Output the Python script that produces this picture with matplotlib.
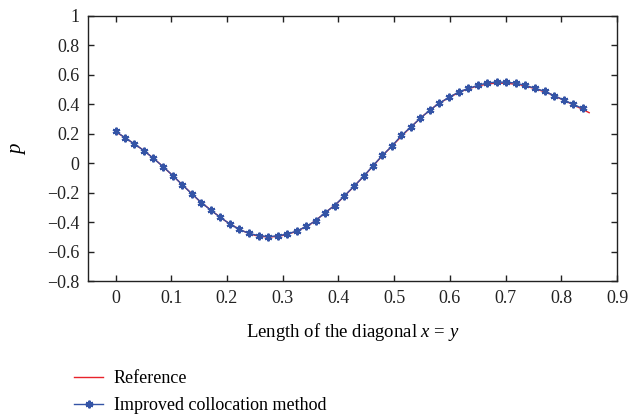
import numpy as np
import matplotlib
matplotlib.use('Agg')
import matplotlib.pyplot as plt
from matplotlib.ticker import FuncFormatter

plt.rcParams['font.family'] = ['Liberation Serif', 'DejaVu Serif']
plt.rcParams['mathtext.fontset'] = 'custom'
plt.rcParams['mathtext.rm'] = 'Liberation Serif'
plt.rcParams['mathtext.it'] = 'Liberation Serif:italic'

# reference solution along the diagonal
ref_x = [0.000, 0.025, 0.050, 0.075, 0.100, 0.125, 0.150, 0.175, 0.200, 0.225,
         0.250, 0.275, 0.300, 0.325, 0.350, 0.375, 0.400, 0.425, 0.450, 0.475,
         0.500, 0.525, 0.550, 0.575, 0.600, 0.625, 0.650, 0.675, 0.700, 0.725,
         0.750, 0.775, 0.800, 0.825, 0.850]
ref_p = [0.215, 0.153, 0.089, 0.012, -0.074, -0.164, -0.253, -0.329, -0.398, -0.454,
         -0.488, -0.501, -0.489, -0.462, -0.412, -0.340, -0.262, -0.168, -0.069, 0.036,
         0.132, 0.228, 0.316, 0.392, 0.450, 0.494, 0.525, 0.541, 0.543, 0.533,
         0.509, 0.478, 0.435, 0.390, 0.343]

# improved collocation method
icm_x = [0.000, 0.017, 0.034, 0.051, 0.068, 0.086, 0.103, 0.120, 0.137, 0.154,
         0.171, 0.188, 0.205, 0.222, 0.239, 0.257, 0.274, 0.291, 0.308, 0.325,
         0.342, 0.359, 0.376, 0.393, 0.410, 0.428, 0.445, 0.462, 0.479, 0.496,
         0.513, 0.530, 0.547, 0.564, 0.581, 0.599, 0.616, 0.633, 0.650, 0.667,
         0.684, 0.701, 0.718, 0.735, 0.752, 0.770, 0.787, 0.804, 0.821, 0.838]
icm_p = [0.217, 0.174, 0.131, 0.086, 0.033, -0.024, -0.084, -0.146, -0.207, -0.266,
         -0.318, -0.366, -0.410, -0.448, -0.474, -0.490, -0.496, -0.492, -0.478, -0.459,
         -0.428, -0.389, -0.334, -0.286, -0.223, -0.155, -0.089, -0.016, 0.054, 0.117,
         0.189, 0.246, 0.306, 0.360, 0.408, 0.448, 0.484, 0.507, 0.528, 0.545,
         0.550, 0.549, 0.544, 0.528, 0.510, 0.488, 0.459, 0.430, 0.400, 0.372]

xticks = [0, 0.1, 0.2, 0.3, 0.4, 0.5, 0.6, 0.7, 0.8, 0.9]
yticks = [-0.8, -0.6, -0.4, -0.2, 0, 0.2, 0.4, 0.6, 0.8, 1]


def fmt(v, pos):
    return ('%g' % round(v, 2)).replace('-', '\u2212')


fig = plt.figure(figsize=(6.29, 4.18), dpi=100)
ax = fig.add_axes([0.1394, 0.3268, 0.8416, 0.6356])

ax.plot(ref_x, ref_p, color='#e8232b', lw=1.0, label='Reference')
ax.plot(icm_x, icm_p, color='#3454a6', lw=1.0, marker=(6, 2, 0), ms=5.5, mew=1.5,
        label='Improved collocation method')

ax.set_xlim(-0.05, 0.9)
ax.set_ylim(-0.8, 1)
ax.set_xticks(xticks)
ax.set_yticks(yticks)
ax.xaxis.set_major_formatter(FuncFormatter(fmt))
ax.yaxis.set_major_formatter(FuncFormatter(fmt))
ax.tick_params(direction='in', length=4, width=1, top=True, right=True,
               labelsize=13, pad=6, colors='#222222')
for s in ax.spines.values():
    s.set_linewidth(1.0)
    s.set_color('#222222')

ax.set_xlabel('Length of the diagonal $x$ = $y$', fontsize=13.5, labelpad=10)
ax.set_ylabel('$p$', fontsize=15, labelpad=14)

fig.legend(loc='upper left', bbox_to_anchor=(0.118, 0.114), frameon=False,
           fontsize=13, handlelength=1.6, handletextpad=0.6, labelspacing=0.55,
           borderaxespad=0, borderpad=0)

fig.savefig('out.png', dpi=100)
